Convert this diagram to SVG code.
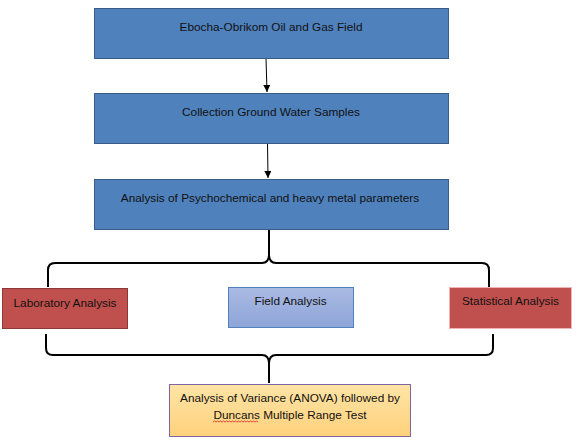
<svg xmlns="http://www.w3.org/2000/svg" width="580" height="443" viewBox="0 0 580 443">
<style>
text{font-family:"Liberation Sans",Arial,sans-serif;font-size:11.8px;fill:#111;text-anchor:middle}
.blue{fill:#4F81BD;stroke:#385D8A;stroke-width:1}
.red{fill:#C0504D;stroke:#8C3836;stroke-width:1}
.conn{stroke:#000;stroke-width:1;fill:none}
.brace{stroke:#000;stroke-width:2;fill:none}
</style>
<defs>
<marker id="ah" viewBox="0 0 10 10" refX="10" refY="5" markerWidth="7" markerHeight="7" orient="auto" markerUnits="userSpaceOnUse">
<path d="M0,0 L10,5 L0,10 z" fill="#000"/>
</marker>
<linearGradient id="gBlue" x1="0" y1="0" x2="0" y2="1">
<stop offset="0" stop-color="#AABAE3"/>
<stop offset="1" stop-color="#8DA5D8"/>
</linearGradient>
<linearGradient id="gOrange" x1="0" y1="0" x2="0" y2="1">
<stop offset="0" stop-color="#FFE4A6"/>
<stop offset="1" stop-color="#FFD17C"/>
</linearGradient>
</defs>
<rect width="580" height="443" fill="#fff"/>
<g id="connectors">
<line class="conn" x1="266" y1="58" x2="267" y2="92" marker-end="url(#ah)"/>
<line class="conn" x1="267.5" y1="143" x2="268" y2="178" marker-end="url(#ah)"/>
<path class="brace" d="M269,229 L269,255 Q269.3,263 276,263 L482,263 Q489,263 489,270 L489,287 M269,255 Q268.7,263 262,263 L55,263 Q48,263 48,270 L48,287"/>
<path class="brace" d="M46,334 L46,348 Q46,355 53,355 L262,355 Q268.7,355 269,363 L269,383 M269,363 Q269.3,355 276,355 L486,355 Q493,355 493,348 L493,334"/>
</g>
<g id="n1">
<rect class="blue" x="94.5" y="8.5" width="354" height="50"/>
<text x="271" y="31">Ebocha-Obrikom Oil and Gas Field</text>
</g>
<g id="n2">
<rect class="blue" x="94.5" y="93.5" width="354" height="50"/>
<text x="271" y="116">Collection Ground Water Samples</text>
</g>
<g id="n3">
<rect class="blue" x="94.5" y="179.5" width="354" height="50"/>
<text x="270" y="202">Analysis of Psychochemical and heavy metal parameters</text>
</g>
<g id="n4">
<rect class="red" x="2.5" y="288.5" width="125" height="40"/>
<text x="65" y="307">Laboratory Analysis</text>
</g>
<g id="n5">
<rect x="228.5" y="287.5" width="125" height="40" fill="url(#gBlue)" stroke="#4F81BD" stroke-width="1"/>
<text x="290.5" y="305">Field Analysis</text>
</g>
<g id="n6">
<rect x="449.5" y="287.5" width="122" height="41" fill="#C0504D" stroke="#F0B4B2" stroke-width="1"/>
<text x="510.5" y="305">Statistical Analysis</text>
</g>
<g id="n7">
<rect x="169.5" y="384.5" width="241" height="52" fill="url(#gOrange)" stroke="#8064A2" stroke-width="1"/>
<text x="290" y="402">Analysis of Variance (ANOVA) followed by</text>
<text x="290" y="419">Duncans Multiple Range Test</text>
<path d="M213,422 l1.5,-1 l1.5,1 l1.5,-1 l1.5,1 l1.5,-1 l1.5,1 l1.5,-1 l1.5,1 l1.5,-1 l1.5,1 l1.5,-1 l1.5,1 l1.5,-1 l1.5,1 l1.5,-1 l1.5,1 l1.5,-1 l1.5,1 l1.5,-1 l1.5,1 l1.5,-1 l1.5,1 l1.5,-1 l1.5,1 l1.5,-1 l1.5,1 l1.5,-1 l1.5,1 l1.5,-1 l1.5,1" fill="none" stroke="#E02020" stroke-width="0.8"/>
</g>
</svg>
